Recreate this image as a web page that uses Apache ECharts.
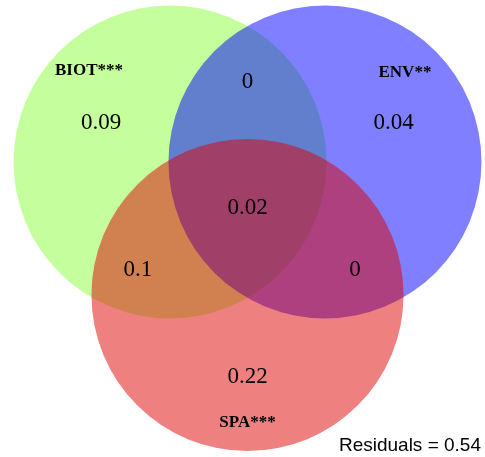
<!DOCTYPE html>
<html>
<head>
<meta charset="utf-8">
<script src="https://cdn.jsdelivr.net/npm/echarts@6/dist/echarts.min.js"></script>
<style>
  html, body { margin: 0; padding: 0; background: #fff; }
  #chart { width: 485px; height: 457px; }
</style>
</head>
<body>
<div id="chart"></div>
<script>
// Three-set Venn diagram of variance partitioning (unit-radius layout)
const setNames = ['BIOT***', 'ENV**', 'SPA***'];
const setCenterX = [-0.495, 0.495, 0.0];
const setCenterY = [0.425, 0.425, -0.425];
const setRadius = [1.0, 1.0, 0.997];
const setLabelX = [-1.013, 1.006, 0.0];
const setLabelY = [1.006, 0.994, -1.243];

// Fractions of explained variation for each region of the diagram
const regionNames = ['BIOT', 'ENV', 'SPA', 'BIOT∩ENV', 'BIOT∩SPA', 'ENV∩SPA', 'BIOT∩ENV∩SPA'];
const regionValues = [0.09, 0.04, 0.22, 0, 0.1, 0, 0.02];
const regionX = [-0.936, 0.933, 0.0, 0.0, -0.700, 0.687, 0.0];
const regionY = [0.674, 0.674, -0.949, 0.936, -0.265, -0.265, 0.131];

const residuals = 0.54;

const setColors = ['#8bfd39', '#0000ff', '#dd0101'];
const pxPerUnit = 156.5;
const W = 485, H = 457, originX = 247.5, originY = 228.5;

const chart = echarts.init(document.getElementById('chart'), null, { renderer: 'canvas' });

const circleData = setNames.map((n, i) => [setCenterX[i], setCenterY[i], setRadius[i], i]);
const setLabelData = setNames.map((n, i) => [setLabelX[i], setLabelY[i], n]);
const regionData = regionValues.map((v, i) => [regionX[i], regionY[i], String(v)]);

chart.setOption({
  animation: false,
  backgroundColor: '#ffffff',
  grid: { left: 0, top: 0, width: W, height: H },
  xAxis: {
    type: 'value', show: false,
    min: -originX / pxPerUnit, max: (W - originX) / pxPerUnit
  },
  yAxis: {
    type: 'value', show: false,
    min: -(H - originY) / pxPerUnit, max: originY / pxPerUnit
  },
  series: [
    {
      type: 'custom',
      coordinateSystem: 'cartesian2d',
      data: circleData,
      renderItem: function (params, api) {
        const c = api.coord([api.value(0), api.value(1)]);
        const r = api.size([api.value(2), 0])[0];
        return {
          type: 'circle',
          shape: { cx: c[0], cy: c[1], r: r },
          style: { fill: setColors[api.value(3)], opacity: 0.5 }
        };
      },
      z: 1
    },
    {
      type: 'custom',
      coordinateSystem: 'cartesian2d',
      data: setLabelData,
      renderItem: function (params, api) {
        const c = api.coord([api.value(0), api.value(1)]);
        return {
          type: 'text',
          x: c[0], y: c[1],
          style: {
            text: setLabelData[params.dataIndex][2],
            fill: '#000000',
            font: 'bold 17px "Liberation Serif", "Times New Roman", serif',
            align: 'center', verticalAlign: 'middle'
          }
        };
      },
      z: 3
    },
    {
      type: 'custom',
      coordinateSystem: 'cartesian2d',
      data: regionData,
      renderItem: function (params, api) {
        const c = api.coord([api.value(0), api.value(1)]);
        return {
          type: 'text',
          x: c[0], y: c[1],
          style: {
            text: regionData[params.dataIndex][2],
            fill: '#000000',
            font: '23px "Liberation Serif", "Times New Roman", serif',
            align: 'center', verticalAlign: 'middle'
          }
        };
      },
      z: 3
    }
  ],
  graphic: [
    {
      type: 'text',
      right: 4,
      top: 436,
      style: {
        text: 'Residuals = ' + residuals,
        fill: '#000000',
        font: '19px "Liberation Sans", Arial, sans-serif'
      }
    }
  ]
});
</script>
</body>
</html>
